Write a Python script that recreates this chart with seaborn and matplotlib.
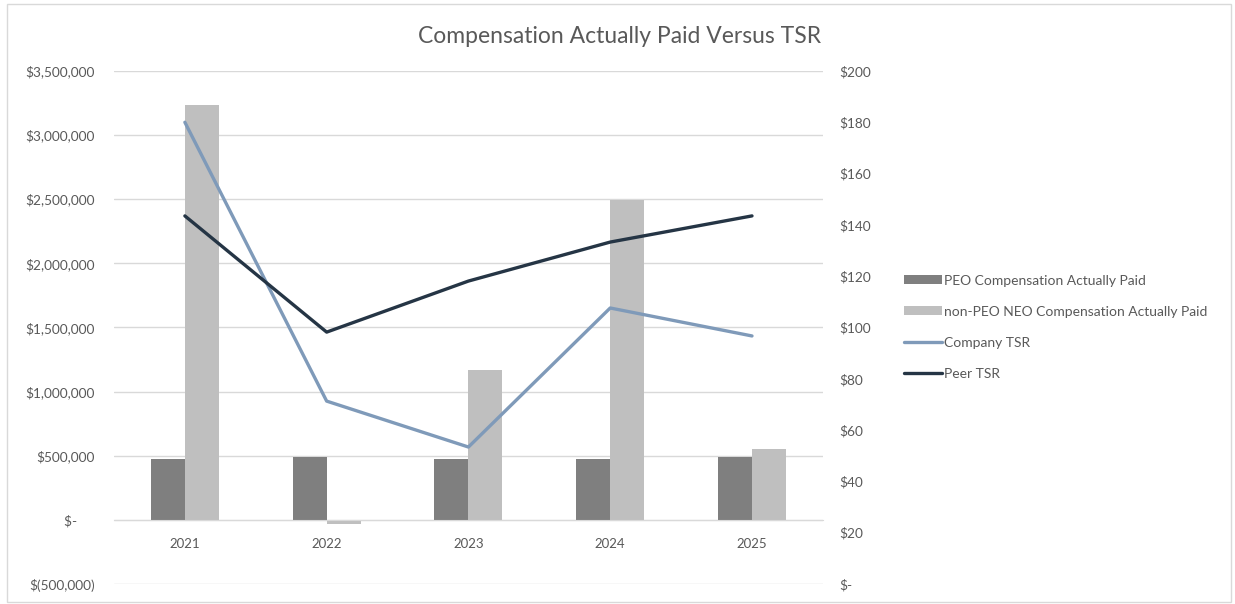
import pandas as pd
import seaborn as sns
import matplotlib
matplotlib.use("Agg")
import matplotlib.pyplot as plt
from matplotlib.ticker import FuncFormatter, MultipleLocator, FixedLocator
from matplotlib.patches import Rectangle, Patch
from matplotlib.lines import Line2D

years = ["2021", "2022", "2023", "2024", "2025"]
peo_cap = [476000, 491000, 476000, 476000, 491000]
neo_cap = [3237000, -30000, 1170000, 2496000, 554000]
company_tsr = [180.0, 71.3, 53.4, 107.6, 96.7]
peer_tsr = [143.5, 98.2, 118.1, 133.3, 143.5]

bar_names = ["PEO Compensation Actually Paid", "non-PEO NEO Compensation Actually Paid"]
line_names = ["Company TSR", "Peer TSR"]
bar_colors = ["#7f7f7f", "#bfbfbf"]
line_colors = ["#7f9ab9", "#253545"]

df_bars = pd.DataFrame({
    "year": years * 2,
    "value": peo_cap + neo_cap,
    "series": [bar_names[0]] * 5 + [bar_names[1]] * 5,
})
df_lines = pd.DataFrame({
    "year": years * 2,
    "value": company_tsr + peer_tsr,
    "series": [line_names[0]] * 5 + [line_names[1]] * 5,
})

sns.set_style("white")
plt.rcParams["font.family"] = ["Lato", "DejaVu Sans"]
text_color = "#595959"
grid_color = "#d9d9d9"

fig = plt.figure(figsize=(12.35, 6.04), dpi=100)
ax = fig.add_axes([0.0923, 0.0331, 0.5740, 0.8494])
ax2 = ax.twinx()

sns.barplot(data=df_bars, x="year", y="value", hue="series", hue_order=bar_names,
            palette=bar_colors, saturation=1, width=0.48, errorbar=None,
            legend=False, ax=ax, zorder=2)
for p in ax.patches:
    p.set_edgecolor("none")

sns.pointplot(data=df_lines, x="year", y="value", hue="series", hue_order=line_names,
              palette=line_colors, markers="", errorbar=None, legend=False,
              ax=ax2, lw=2.4)

# left axis
ax.set_ylim(-500000, 3500000)
ax.yaxis.set_major_locator(MultipleLocator(500000))

def money(v, pos):
    if abs(v) < 1:
        return "$-     "
    if v < 0:
        return "$({:,.0f})".format(-v)
    return "${:,.0f}".format(v)

ax.yaxis.set_major_formatter(FuncFormatter(money))
ax.yaxis.grid(True, color=grid_color, lw=1)
ax.set_axisbelow(True)
ax.set_xlim(-0.5, 4.5)
for s in ["left", "right", "top"]:
    ax.spines[s].set_visible(False)
ax.spines["bottom"].set_position(("data", 0))
ax.spines["bottom"].set_color(grid_color)
ax.xaxis.set_minor_locator(FixedLocator([-0.5, 0.5, 1.5, 2.5, 3.5, 4.5]))
ax.tick_params(axis="x", which="major", length=0, pad=13, labelsize=9.5, labelcolor=text_color)
ax.tick_params(axis="x", which="minor", length=5, color=grid_color, width=1)
ax.tick_params(axis="y", length=0, pad=14, labelsize=9.8, labelcolor=text_color)
ax.set_xlabel("")
ax.set_ylabel("")

# right axis
ax2.set_ylim(0, 200)
ax2.yaxis.set_major_locator(MultipleLocator(20))
ax2.yaxis.set_major_formatter(FuncFormatter(lambda v, p: "$-" if abs(v) < 0.01 else "${:,.0f}".format(v)))
for s in ["left", "right", "top", "bottom"]:
    ax2.spines[s].set_visible(False)
ax2.tick_params(axis="y", length=0, pad=12, labelsize=9.8, labelcolor=text_color)
ax2.set_xlabel("")
ax2.set_ylabel("")
ax2.set_xlim(-0.5, 4.5)
ax2.grid(False)

fig.text(0.502, 0.94, "Compensation Actually Paid Versus TSR", ha="center", va="center",
         fontsize=16.5, color=text_color)

handles = [Patch(facecolor=c, edgecolor="none") for c in bar_colors] + \
          [Line2D([], [], color=c, lw=2.4) for c in line_colors]
fig.legend(handles, bar_names + line_names, loc="center left", bbox_to_anchor=(0.722, 0.458),
           frameon=False, fontsize=10, labelcolor=text_color, handlelength=2.7,
           handleheight=0.6, handletextpad=0.2, labelspacing=1.38)

fig.patches.append(Rectangle((0.006, 0.004), 0.991, 0.99, transform=fig.transFigure,
                             fill=False, edgecolor=grid_color, lw=1))

fig.savefig("out.png", dpi=100)
